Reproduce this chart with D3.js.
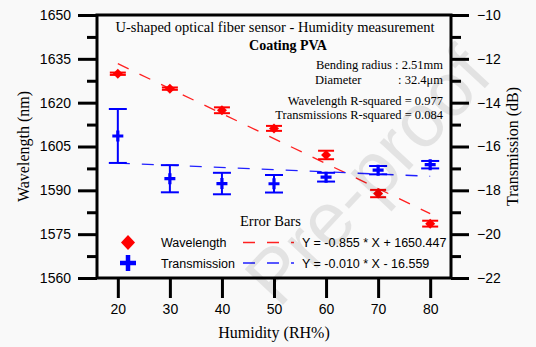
<!DOCTYPE html>
<html><head><meta charset="utf-8">
<script src="https://cdn.jsdelivr.net/npm/d3@7"></script>
<style>
html,body{margin:0;padding:0;background:#f9f9f9;}
svg{display:block;}
</style></head>
<body>
<svg id="c" width="536" height="347"></svg>
<script>
const humidity = [20, 30, 40, 50, 60, 70, 80];
const wavelength = [1629.9, 1624.8, 1617.4, 1611.2, 1602.1, 1588.9, 1578.6];
const wavelengthErr = [0.4, 0.4, 1.0, 0.85, 1.45, 1.25, 1.0];
const transmission = [-15.52, -17.47, -17.69, -17.70, -17.40, -17.08, -16.83];
const transmissionErr = [1.23, 0.62, 0.49, 0.40, 0.20, 0.19, 0.17];
const xTicks = [20, 30, 40, 50, 60, 70, 80];
const yLeftTicks = [1560, 1575, 1590, 1605, 1620, 1635, 1650];
const yRightTicks = [-22, -20, -18, -16, -14, -12, -10];
const fitWavelength = {slope: -0.855, intercept: 1650.447};
const fitTransmission = {slope: -0.010, intercept: -16.559};

const L = 97, R = 451, T = 15, B = 278;
const x = d3.scaleLinear().domain([16, 84]).range([L, R]);
const yL = d3.scaleLinear().domain([1560, 1650]).range([B, T]);
const yR = d3.scaleLinear().domain([-22, -10]).range([B, T]);

const svg = d3.select("#c");
const serif = "'Liberation Serif','Times New Roman',serif";
const sans = "'Liberation Sans',Arial,sans-serif";

// frame
svg.append("rect").attr("x", L).attr("y", T).attr("width", R - L).attr("height", B - T)
  .attr("fill", "#fafafa").attr("stroke", "#000").attr("stroke-width", 3);

// axes
const axL = d3.axisLeft(yL).tickValues(yLeftTicks).tickSize(19).tickPadding(7).tickFormat(d3.format("d"));
const axR = d3.axisRight(yR).tickValues(yRightTicks).tickSize(18).tickPadding(8).tickFormat(d3.format("d"));
const axB = d3.axisBottom(x).tickValues(xTicks).tickSize(20).tickPadding(6).tickFormat(d3.format("d"));
const minorL = d3.axisLeft(yL).tickValues(d3.range(1567.5, 1650, 15)).tickSize(10).tickFormat("");
const minorR = d3.axisRight(yR).tickValues(d3.range(-21, -10, 2)).tickSize(10).tickFormat("");

function styleAxis(g) {
  g.select(".domain").remove();
  g.selectAll(".tick line").attr("stroke", "#000").attr("stroke-width", 3);
  g.selectAll(".tick text").attr("font-family", sans).attr("font-size", 14).attr("fill", "#000");
}
svg.append("g").attr("transform", `translate(${L},0)`).call(axL).call(styleAxis);
svg.append("g").attr("transform", `translate(${L},0)`).call(minorL).call(styleAxis);
svg.append("g").attr("transform", `translate(${R},0)`).call(axR).call(styleAxis);
svg.append("g").attr("transform", `translate(${R},0)`).call(minorR).call(styleAxis);
svg.append("g").attr("transform", `translate(0,${B})`).call(axB).call(styleAxis);

// axis titles
svg.append("text").attr("transform", `translate(29,${(T + B) / 2}) rotate(-90)`)
  .attr("text-anchor", "middle").attr("font-family", serif).attr("font-size", 16).text("Wavelength (nm)");
svg.append("text").attr("transform", `translate(518,${(T + B) / 2}) rotate(-90)`)
  .attr("text-anchor", "middle").attr("font-family", serif).attr("font-size", 16).text("Transmission (dB)");
svg.append("text").attr("x", (L + R) / 2).attr("y", 338)
  .attr("text-anchor", "middle").attr("font-family", serif).attr("font-size", 16).text("Humidity (RH%)");

// fit lines
const xs = [humidity[0], humidity[humidity.length - 1]];
const lineL = d3.line().x(d => x(d)).y(d => yL(fitWavelength.slope * d + fitWavelength.intercept));
const lineR = d3.line().x(d => x(d)).y(d => yR(fitTransmission.slope * d + fitTransmission.intercept));
svg.append("path").attr("d", lineL(xs)).attr("fill", "none").attr("stroke", "#ff2020")
  .attr("stroke-width", 1.3).attr("stroke-dasharray", "12,12");
svg.append("path").attr("d", lineR(xs)).attr("fill", "none").attr("stroke", "#2020ff")
  .attr("stroke-width", 1.3).attr("stroke-dasharray", "12,12");

// transmission error bars + markers
const tg = svg.append("g");
humidity.forEach((h, i) => {
  const cx = x(h), top = yR(transmission[i] + transmissionErr[i]), bot = yR(transmission[i] - transmissionErr[i]);
  const g = tg.append("g").attr("stroke", "#0000ff").attr("stroke-width", 2);
  g.append("line").attr("x1", cx).attr("x2", cx).attr("y1", top).attr("y2", bot);
  g.append("line").attr("x1", cx - 9).attr("x2", cx + 9).attr("y1", top).attr("y2", top);
  g.append("line").attr("x1", cx - 9).attr("x2", cx + 9).attr("y1", bot).attr("y2", bot);
  const cy = yR(transmission[i]);
  tg.append("path").attr("d", `M${cx - 5.5},${cy}H${cx + 5.5}M${cx},${cy - 5.5}V${cy + 5.5}`)
    .attr("stroke", "#0000ff").attr("stroke-width", 3.2);
});

// wavelength error bars + markers
const wg = svg.append("g");
humidity.forEach((h, i) => {
  const cx = x(h), top = yL(wavelength[i] + wavelengthErr[i]), bot = yL(wavelength[i] - wavelengthErr[i]);
  const g = wg.append("g").attr("stroke", "#ff0000").attr("stroke-width", 2);
  g.append("line").attr("x1", cx).attr("x2", cx).attr("y1", top).attr("y2", bot);
  g.append("line").attr("x1", cx - 8).attr("x2", cx + 8).attr("y1", top).attr("y2", top);
  g.append("line").attr("x1", cx - 8).attr("x2", cx + 8).attr("y1", bot).attr("y2", bot);
  const cy = yL(wavelength[i]);
  wg.append("path").attr("d", `M${cx},${cy - 5}L${cx + 5},${cy}L${cx},${cy + 5}L${cx - 5},${cy}Z`)
    .attr("fill", "#ff0000");
});

// title and annotations
svg.append("text").attr("x", 275).attr("y", 32).attr("text-anchor", "middle")
  .attr("font-family", serif).attr("font-size", 14.5).text("U-shaped optical fiber sensor - Humidity measurement");
svg.append("text").attr("x", 288).attr("y", 50).attr("text-anchor", "middle")
  .attr("font-family", serif).attr("font-size", 14).attr("font-weight", "bold").text("Coating PVA");
const info = svg.append("g").attr("font-family", serif).attr("font-size", 12.5);
info.append("text").attr("x", 443).attr("y", 69).attr("text-anchor", "end").text("Bending radius : 2.51mm");
info.append("text").attr("x", 315).attr("y", 84).text("Diameter");
info.append("text").attr("x", 443).attr("y", 84).attr("text-anchor", "end").text(": 32.4\u03bcm");
info.append("text").attr("x", 443).attr("y", 105).attr("text-anchor", "end").text("Wavelength R-squared = 0.977");
info.append("text").attr("x", 443).attr("y", 119).attr("text-anchor", "end").text("Transmissions R-squared = 0.084");

// legend
svg.append("text").attr("x", 240).attr("y", 226).attr("font-family", serif).attr("font-size", 14.5).text("Error Bars");
const lg = svg.append("g");
const r1 = 242.5, r2 = 263;
lg.append("path").attr("d", `M128,${r1 - 7.5}L135,${r1}L128,${r1 + 7.5}L121,${r1}Z`).attr("fill", "#ff0000");
lg.append("path").attr("d", `M120,${r2}H136M128,${r2 - 8}V${r2 + 8}`).attr("stroke", "#0000ff").attr("stroke-width", 4.5);
lg.append("text").attr("x", 161).attr("y", r1 + 4.5).attr("font-family", sans).attr("font-size", 12.5).text("Wavelength");
lg.append("text").attr("x", 161).attr("y", r2 + 4.5).attr("font-family", sans).attr("font-size", 12.5).text("Transmission");
lg.append("line").attr("x1", 243).attr("x2", 294).attr("y1", r1).attr("y2", r1).attr("stroke", "#ff2020")
  .attr("stroke-width", 1.3).attr("stroke-dasharray", "12,12");
lg.append("line").attr("x1", 243).attr("x2", 294).attr("y1", r2).attr("y2", r2).attr("stroke", "#2020ff")
  .attr("stroke-width", 1.3).attr("stroke-dasharray", "12,12");
lg.append("text").attr("x", 302).attr("y", r1 + 4.5).attr("font-family", sans).attr("font-size", 12.5)
  .text("Y = -0.855 * X + 1650.447");
lg.append("text").attr("x", 302).attr("y", r2 + 4.5).attr("font-family", sans).attr("font-size", 12.5)
  .text("Y = -0.010 * X - 16.559");

// watermark
svg.append("text").attr("transform", "translate(372,180) rotate(-47)")
  .attr("text-anchor", "middle").attr("dominant-baseline", "middle")
  .attr("font-family", sans).attr("font-size", 76).attr("fill", "#000").attr("fill-opacity", 0.09)
  .text("Pre-proof");
</script>
</body></html>
